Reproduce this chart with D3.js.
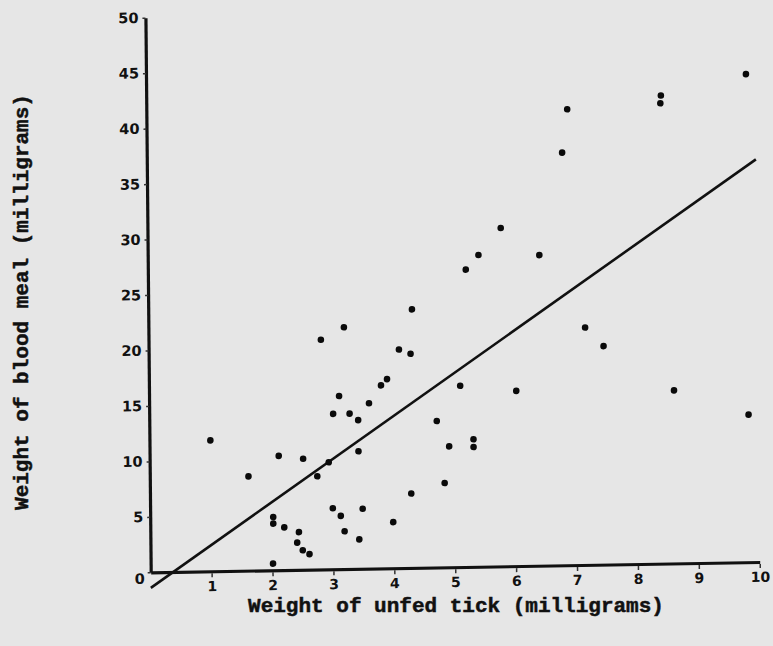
<!DOCTYPE html>
<html>
<head>
<meta charset="utf-8">
<script src="https://cdn.jsdelivr.net/npm/d3@7"></script>
<style>
  html, body { margin: 0; padding: 0; background: #e6e6e6; }
  svg { display: block; }
  .tick text { font-family: "DejaVu Sans", "Liberation Sans", sans-serif; font-weight: bold; fill: #111; }
  .title { font-family: "Liberation Mono", "Courier New", monospace; font-weight: bold; fill: #111; stroke: #111; stroke-width: 0.5px; }
</style>
</head>
<body>
<script>
// Unfed tick weight (mg) against weight of the blood meal taken (mg)
const tickWeight = [1.0, 1.62, 2.12, 2.52, 2.02, 2.02, 2.2, 2.44, 2.41, 2.5, 2.61, 2.01,
  2.75, 2.94, 2.83, 3.21, 3.02, 3.12, 3.29, 3.43, 3.61, 3.81, 3.91, 4.11, 4.3, 4.33,
  3.43, 3.0, 3.13, 3.19, 3.43, 3.49, 3.99, 4.29, 4.72, 4.92, 4.84, 5.32, 5.32, 5.11,
  5.22, 5.43, 5.8, 6.03, 6.43, 6.82, 6.91, 7.17, 7.47, 8.45, 8.44, 8.62, 9.84, 9.85];
const bloodMeal = [11.8, 8.5, 10.3, 10.0, 4.8, 4.2, 3.85, 3.4, 2.45, 1.75, 1.4, 0.6,
  8.4, 9.65, 20.7, 21.8, 14.0, 15.6, 14.0, 13.4, 14.9, 16.5, 17.05, 19.7, 19.3, 23.3,
  10.6, 5.5, 4.8, 3.4, 2.65, 5.4, 4.15, 6.7, 13.2, 10.9, 7.6, 11.5, 10.8, 16.35,
  26.8, 28.1, 30.5, 15.8, 28.0, 37.2, 41.1, 21.4, 19.7, 42.2, 41.5, 15.6, 13.3, 44.0];

// Fitted regression line, given by its two ends
const fitX = [0, 10];
const fitY = [-1.4, 36.3];

const xTicks = [1, 2, 3, 4, 5, 6, 7, 8, 9, 10];
const yTicks = [0, 5, 10, 15, 20, 25, 30, 35, 40, 45, 50];

const xTitle = "Weight of unfed tick (milligrams)";
const yTitle = "Weight of blood meal (milligrams)";

const W = 773, H = 646;
const svg = d3.select("body").append("svg").attr("width", W).attr("height", H);
svg.append("rect").attr("width", W).attr("height", H).attr("fill", "#e6e6e6");

// plot frame anchored at the origin, slightly skewed like the printed figure
const plot = svg.append("g")
  .attr("transform", "matrix(1,-0.0169,0.0095,1,150.7,572.3)");

const x = d3.scaleLinear().domain([0, 10]).range([0, 609]);
const y = d3.scaleLinear().domain([0, 50]).range([0, -554.6]);

// regression line
plot.append("line")
  .attr("x1", x(fitX[0])).attr("y1", y(fitY[0]))
  .attr("x2", x(fitX[1])).attr("y2", y(fitY[1]))
  .attr("stroke", "#111").attr("stroke-width", 2.6);

// x axis
const gx = plot.append("g")
  .call(d3.axisBottom(x).tickValues(xTicks).tickSize(4).tickPadding(4).tickSizeOuter(0));
gx.select(".domain").attr("stroke", "#111").attr("stroke-width", 3.2);
gx.selectAll(".tick line").attr("stroke", "#333").attr("stroke-width", 1.5).attr("transform", "translate(0,2)");
gx.selectAll(".tick text").attr("font-size", 14).attr("dy", "0.85em");

// y axis
const gy = plot.append("g")
  .call(d3.axisLeft(y).tickValues(yTicks).tickSize(3).tickPadding(4).tickSizeOuter(0));
gy.select(".domain").attr("stroke", "#111").attr("stroke-width", 3.2);
gy.selectAll(".tick line").attr("stroke", "#333").attr("stroke-width", 1.5);
gy.selectAll(".tick text").attr("font-size", 14.5);
gy.selectAll(".tick").filter(d => d === 0).select("text").attr("dy", "0.75em").attr("x", -6);

// data points
plot.append("g").selectAll("circle")
  .data(tickWeight.map((v, i) => [v, bloodMeal[i]]))
  .join("circle")
  .attr("cx", d => x(d[0]))
  .attr("cy", d => y(d[1]))
  .attr("r", 3.3)
  .attr("fill", "#0a0a0a");

// axis titles
svg.append("text").attr("class", "title")
  .attr("x", 456).attr("y", 612)
  .attr("text-anchor", "middle")
  .attr("font-size", 21)
  .text(xTitle);

svg.append("text").attr("class", "title")
  .attr("transform", "translate(28,302) rotate(-90)")
  .attr("text-anchor", "middle")
  .attr("font-size", 21)
  .text(yTitle);
</script>
</body>
</html>
